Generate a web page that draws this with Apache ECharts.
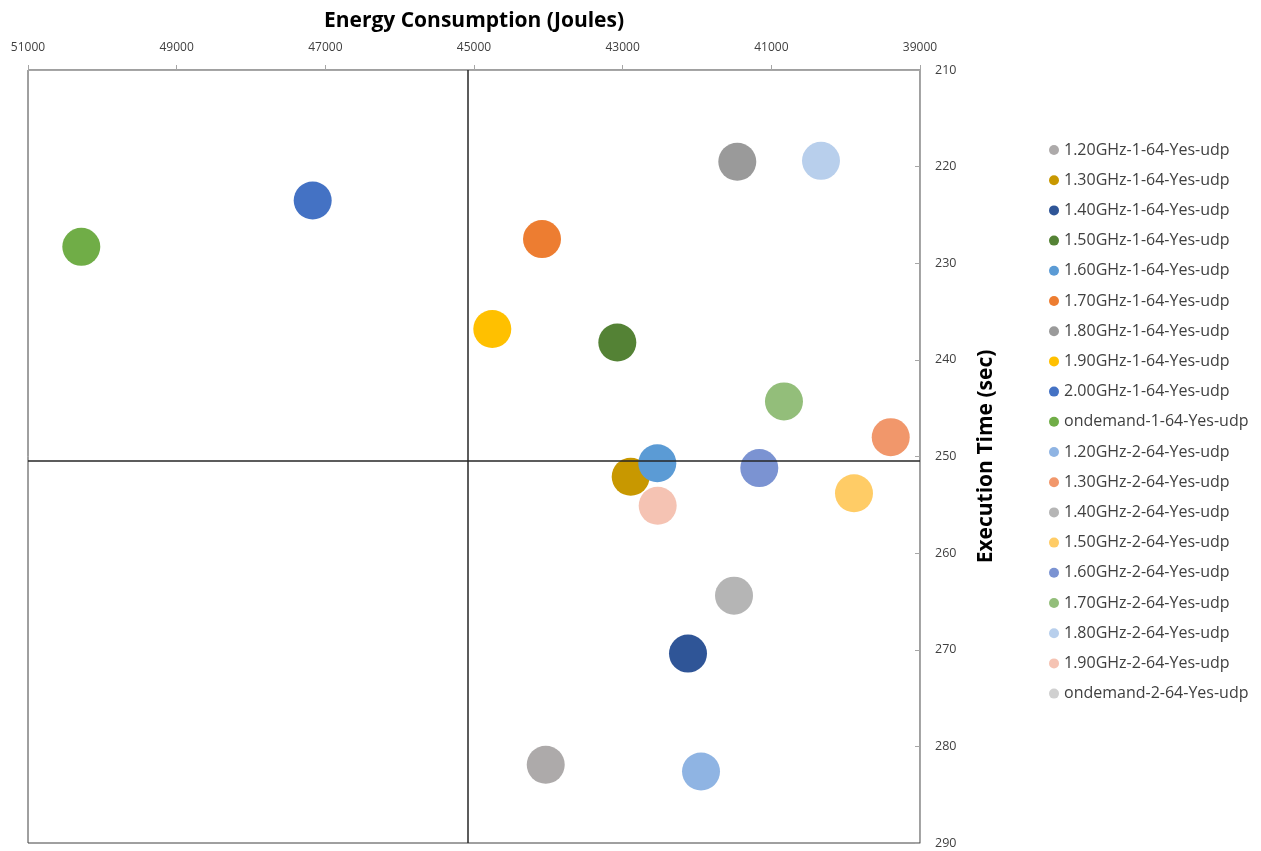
<!DOCTYPE html>
<html>
<head>
<meta charset="utf-8">
<script src="https://cdn.jsdelivr.net/npm/echarts@6/dist/echarts.min.js"></script>
<style>html,body{margin:0;padding:0;background:#fff;}#c{width:1261px;height:851px;}</style>
</head>
<body>
<div id="c"></div>
<script>
const seriesNames = [
  "1.20GHz-1-64-Yes-udp","1.30GHz-1-64-Yes-udp","1.40GHz-1-64-Yes-udp","1.50GHz-1-64-Yes-udp",
  "1.60GHz-1-64-Yes-udp","1.70GHz-1-64-Yes-udp","1.80GHz-1-64-Yes-udp","1.90GHz-1-64-Yes-udp",
  "2.00GHz-1-64-Yes-udp","ondemand-1-64-Yes-udp","1.20GHz-2-64-Yes-udp","1.30GHz-2-64-Yes-udp",
  "1.40GHz-2-64-Yes-udp","1.50GHz-2-64-Yes-udp","1.60GHz-2-64-Yes-udp","1.70GHz-2-64-Yes-udp",
  "1.80GHz-2-64-Yes-udp","1.90GHz-2-64-Yes-udp","ondemand-2-64-Yes-udp"
];
// Energy consumption (Joules), null = not visible
const energy = [44035, 42892, 42121, 43072, 42534, 44085, 41458, 44754, 47170, 50283,
                41946, 39394, 41502, 39888, 41162, 40830, 40332, 42529, null];
// Execution time (sec)
const execTime = [281.9, 252.1, 270.4, 238.2, 250.7, 227.5, 219.5, 236.8, 223.5, 228.3,
                  282.6, 248.0, 264.4, 253.8, 251.2, 244.3, 219.4, 255.1, null];
const colors = ["#ADAAAA","#C89800","#2F5597","#548235","#5B9BD5","#ED7D31","#9A9A9A","#FFC000",
                "#4472C4","#70AD47","#8FB4E3","#F1976B","#B5B5B5","#FFCC66","#7B93D2","#93BE7A",
                "#B8CFEC","#F5C3B3","#D0D0D0"];
const xTicks = {min: 39000, max: 51000, interval: 2000};
const yTicks = {min: 210, max: 290, interval: 10};
const quadrantX = 45080;
const quadrantY = 250.4;

const series = seriesNames.map((name, i) => ({
  name: name,
  type: 'scatter',
  symbol: 'circle',
  symbolSize: 38,
  itemStyle: {color: colors[i], opacity: 1},
  data: energy[i] == null ? [] : [[energy[i], execTime[i]]],
  z: 3
}));
series.push({
  name: '__quad',
  type: 'line',
  data: [],
  silent: true,
  markLine: {
    symbol: 'none',
    silent: true,
    label: {show: false},
    lineStyle: {color: '#262626', width: 1.5, type: 'solid'},
    data: [
      {xAxis: quadrantX},
      {yAxis: quadrantY}
    ]
  },
  z: 2
});

const chart = echarts.init(document.getElementById('c'));
chart.setOption({
  animation: false,
  backgroundColor: '#fff',
  grid: {left: 28, right: 341, top: 70, bottom: 8, containLabel: false, outerBoundsMode: 'none',
         show: true, borderColor: '#404040', borderWidth: 1, backgroundColor: 'transparent'},
  xAxis: {
    type: 'value', position: 'top', inverse: true,
    min: xTicks.min, max: xTicks.max, interval: xTicks.interval,
    name: 'Energy Consumption (Joules)', nameLocation: 'middle', nameGap: 38,
    nameTextStyle: {fontFamily: 'Open Sans', fontSize: 21, fontWeight: 'bold', color: '#000'},
    axisLine: {show: true, lineStyle: {color: '#A6A6A6', width: 1}},
    axisTick: {show: true, inside: false, length: 5, lineStyle: {color: '#A6A6A6'}},
    axisLabel: {margin: 16, fontFamily: 'Open Sans', fontSize: 12, color: '#404040',
                formatter: v => String(v)},
    splitLine: {show: false}
  },
  yAxis: {
    type: 'value', position: 'right', inverse: true,
    min: yTicks.min, max: yTicks.max, interval: yTicks.interval,
    name: 'Execution Time (sec)', nameLocation: 'middle', nameGap: 56, nameRotate: 90,
    nameTextStyle: {fontFamily: 'Open Sans', fontSize: 21, fontWeight: 'bold', color: '#000'},
    axisLine: {show: true, lineStyle: {color: '#A6A6A6', width: 1}},
    axisTick: {show: true, inside: true, length: 5, lineStyle: {color: '#A6A6A6'}},
    axisLabel: {margin: 15, fontFamily: 'Open Sans', fontSize: 12.5, color: '#404040'},
    splitLine: {show: false}
  },
  legend: {
    orient: 'vertical', left: 1044, top: 137,
    data: seriesNames,
    icon: 'circle', itemWidth: 10, itemHeight: 10, itemGap: 14.2,
    textStyle: {fontFamily: 'Open Sans', fontSize: 16, color: '#404040', lineHeight: 16}
  },
  series: series
});
</script>
</body>
</html>
